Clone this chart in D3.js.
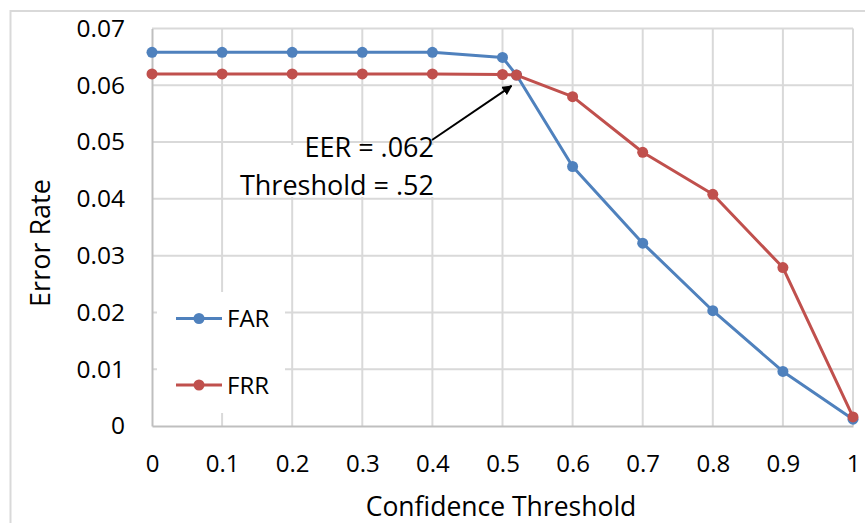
<!DOCTYPE html>
<html>
<head>
<meta charset="utf-8">
<script src="https://cdn.jsdelivr.net/npm/d3@7"></script>
<style>
  html, body { margin: 0; padding: 0; background: #fff; }
  svg { display: block; font-family: 'Open Sans', sans-serif; }
</style>
</head>
<body>
<svg id="chart" width="865" height="523"></svg>
<script>
// data
const thresholds = [0, 0.1, 0.2, 0.3, 0.4, 0.5, 0.52, 0.6, 0.7, 0.8, 0.9, 1];
const farValues = [0.0658, 0.0658, 0.0658, 0.0658, 0.0658, 0.0649, 0.0618, 0.0457, 0.0322, 0.0203, 0.0096, 0.0012];
const frrValues = [0.0620, 0.0620, 0.0620, 0.0620, 0.0620, 0.0619, 0.0618, 0.0580, 0.0482, 0.0408, 0.0279, 0.0016];
const xTicks = [0, 0.1, 0.2, 0.3, 0.4, 0.5, 0.6, 0.7, 0.8, 0.9, 1];
const xTickLabels = ['0', '0.1', '0.2', '0.3', '0.4', '0.5', '0.6', '0.7', '0.8', '0.9', '1'];
const yTicks = [0, 0.01, 0.02, 0.03, 0.04, 0.05, 0.06, 0.07];
const yTickLabels = ['0', '0.01', '0.02', '0.03', '0.04', '0.05', '0.06', '0.07'];
const eerPoint = {x: 0.52, y: 0.062};

const series = [
  {name: 'FAR', color: '#4f81bd', values: farValues},
  {name: 'FRR', color: '#c0504d', values: frrValues}
];

const svg = d3.select('#chart');
const plotLeft = 152, plotRight = 853, plotTop = 28.5, plotBottom = 426;

const x = d3.scaleLinear().domain([0, 1]).range([plotLeft, plotRight]);
const y = d3.scaleLinear().domain([0, 0.07]).range([plotBottom, plotTop]);

// outer chart border
svg.append('rect')
  .attr('x', 10.5).attr('y', 11)
  .attr('width', 900).attr('height', 600)
  .attr('fill', '#fff')
  .attr('stroke', '#d9d9d9').attr('stroke-width', 2);

// gridlines
svg.append('g')
  .selectAll('line')
  .data(yTicks.filter(d => d > 0))
  .enter().append('line')
  .attr('x1', plotLeft).attr('x2', plotRight)
  .attr('y1', d => y(d)).attr('y2', d => y(d))
  .attr('stroke', '#d9d9d9').attr('stroke-width', 2);

svg.append('g')
  .selectAll('line')
  .data(xTicks.filter(d => d > 0))
  .enter().append('line')
  .attr('x1', d => x(d)).attr('x2', d => x(d))
  .attr('y1', plotTop).attr('y2', plotBottom)
  .attr('stroke', '#d9d9d9').attr('stroke-width', 2);

// axes
const xAxis = d3.axisBottom(x)
  .tickValues(xTicks)
  .tickSize(0)
  .tickPadding(29)
  .tickFormat((d, i) => xTickLabels[i]);

const yAxis = d3.axisLeft(y)
  .tickValues(yTicks)
  .tickSize(0)
  .tickPadding(27)
  .tickFormat((d, i) => yTickLabels[i]);

const gx = svg.append('g')
  .attr('transform', `translate(0,${plotBottom})`)
  .call(xAxis);
gx.select('.domain').attr('stroke', '#bfbfbf').attr('stroke-width', 2);
gx.selectAll('text').attr('font-size', 24).attr('fill', '#000')
  .attr('font-family', "'Open Sans', sans-serif");

const gy = svg.append('g')
  .attr('transform', `translate(${plotLeft},0)`)
  .call(yAxis);
gy.select('.domain').attr('stroke', '#bfbfbf').attr('stroke-width', 2);
gy.selectAll('text').attr('font-size', 24.5).attr('fill', '#000')
  .attr('font-family', "'Open Sans', sans-serif");

// axis titles
svg.append('text')
  .attr('x', 501)
  .attr('y', 516)
  .attr('text-anchor', 'middle')
  .attr('font-size', 26.5)
  .attr('fill', '#000')
  .text('Confidence Threshold');

svg.append('text')
  .attr('transform', 'translate(50,243) rotate(-90)')
  .attr('text-anchor', 'middle')
  .attr('font-size', 27)
  .attr('fill', '#000')
  .text('Error Rate');

// annotation box (covers gridlines)
svg.append('rect')
  .attr('x', 232).attr('y', 145)
  .attr('width', 208).attr('height', 52)
  .attr('fill', '#fff');

// lines + markers
const line = d3.line()
  .x((d, i) => x(thresholds[i]))
  .y(d => y(d));

series.forEach(s => {
  svg.append('path')
    .datum(s.values)
    .attr('d', line)
    .attr('fill', 'none')
    .attr('stroke', s.color)
    .attr('stroke-width', 3)
    .attr('stroke-linejoin', 'round');

  svg.append('g')
    .selectAll('circle')
    .data(s.values)
    .enter().append('circle')
    .attr('cx', (d, i) => x(thresholds[i]))
    .attr('cy', d => y(d))
    .attr('r', 5.5)
    .attr('fill', s.color);
});

// annotation text + arrow
svg.append('defs').append('marker')
  .attr('id', 'arrow')
  .attr('viewBox', '0 0 10 10')
  .attr('refX', 9).attr('refY', 5)
  .attr('markerWidth', 5).attr('markerHeight', 5)
  .attr('orient', 'auto')
  .append('path')
  .attr('d', 'M0,0 L10,5 L0,10 z')
  .attr('fill', '#000');

svg.append('line')
  .attr('x1', 432).attr('y1', 140)
  .attr('x2', x(eerPoint.x) - 5).attr('y2', y(eerPoint.y) + 12)
  .attr('stroke', '#000').attr('stroke-width', 2)
  .attr('marker-end', 'url(#arrow)');

svg.append('text')
  .attr('x', 434).attr('y', 157)
  .attr('text-anchor', 'end')
  .attr('font-size', 27)
  .attr('fill', '#000')
  .text('EER = .062');

svg.append('text')
  .attr('x', 434).attr('y', 195)
  .attr('text-anchor', 'end')
  .attr('font-size', 27)
  .attr('fill', '#000')
  .text('Threshold = .52');

// legend
const legend = svg.append('g');
legend.append('rect')
  .attr('x', 157).attr('y', 292)
  .attr('width', 128).attr('height', 121)
  .attr('fill', '#fff');

const legendRows = legend.selectAll('g')
  .data(series)
  .enter().append('g')
  .attr('transform', (d, i) => `translate(0,${318.5 + i * 66.5})`);

legendRows.append('line')
  .attr('x1', 176).attr('x2', 222)
  .attr('stroke', d => d.color).attr('stroke-width', 3);

legendRows.append('circle')
  .attr('cx', 199).attr('r', 5.5)
  .attr('fill', d => d.color);

legendRows.append('text')
  .attr('x', 227).attr('dy', '0.36em')
  .attr('font-size', 24)
  .attr('fill', '#000')
  .text(d => d.name);
</script>
</body>
</html>
